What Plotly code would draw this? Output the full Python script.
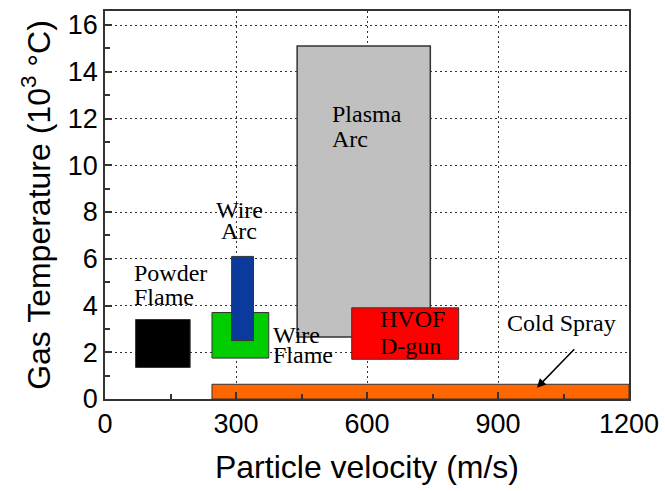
import plotly.graph_objects as go

# ---- data ----
processes = ["Powder Flame", "Wire Flame", "Wire Arc", "Plasma Arc", "HVOF D-gun", "Cold Spray"]
vel_min = [70, 245, 290, 440, 565, 245]
vel_max = [195, 375, 340, 745, 810, 1200]
temp_min = [1.35, 1.75, 2.5, 2.65, 1.7, 0.0]
temp_max = [3.4, 3.7, 6.1, 15.1, 3.9, 0.63]
fill_colors = ["#000000", "#00CC00", "#0A3A9C", "#C0C0C0", "#FF0000", "#FF6600"]

# label lines: (text, x, y, xanchor)
label_text = ["Powder", "Flame", "Wire", "Arc", "Wire", "Flame", "Plasma", "Arc", "HVOF", "D-gun", "Cold Spray"]
label_x = [61, 61, 307, 307, 381, 381, 515, 515, 625, 625, 916]
label_y = [5.40, 4.37, 8.08, 7.20, 2.73, 1.90, 12.2, 11.13, 3.43, 2.28, 3.26]
label_anchor = ["left", "left", "center", "center", "left", "left", "left", "left", "left", "left", "left"]

arrow_tail = (1078, 2.19)
arrow_head = (989, 0.48)

x_ticks = [0, 300, 600, 900, 1200]
y_ticks = [0, 2, 4, 6, 8, 10, 12, 14, 16]

fig = go.Figure()

shapes = []
for i, name in enumerate(processes):
    shapes.append(dict(
        type="rect", xref="x", yref="y",
        x0=vel_min[i], x1=vel_max[i], y0=temp_min[i], y1=temp_max[i],
        fillcolor=fill_colors[i],
        line=dict(color="#333333", width=1.5 if name == "Plasma Arc" else 1),
        layer="between",
    ))

annotations = []
serif = "Times New Roman, Liberation Serif, serif"
for t, x, y, a in zip(label_text, label_x, label_y, label_anchor):
    annotations.append(dict(
        x=x, y=y, xref="x", yref="y", text=t, showarrow=False,
        xanchor=a, yanchor="middle",
        font=dict(family=serif, size=24, color="black"),
    ))
annotations.append(dict(
    x=arrow_head[0], y=arrow_head[1], ax=arrow_tail[0], ay=arrow_tail[1],
    xref="x", yref="y", axref="x", ayref="y", text="",
    showarrow=True, arrowhead=2, arrowsize=1.2, arrowwidth=1.5, arrowcolor="black",
))

# invisible trace to establish axes
fig.add_trace(go.Scatter(x=[0, 1200], y=[0, 16], mode="markers",
                         marker=dict(opacity=0), showlegend=False, hoverinfo="skip"))

sans = "Arial, Liberation Sans, sans-serif"
fig.update_layout(
    width=665, height=491,
    margin=dict(l=105, r=36, t=11, b=92),
    paper_bgcolor="white", plot_bgcolor="white",
    shapes=shapes, annotations=annotations,
    showlegend=False,
    font=dict(family=sans, color="black"),
)
fig.update_xaxes(
    range=[0, 1200], tickvals=x_ticks, ticktext=[str(v) for v in x_ticks],
    ticks="inside", ticklen=7, tickwidth=1.5, tickcolor="#333333",
    showline=True, linecolor="#333333", linewidth=1.5, mirror=True,
    showgrid=True, gridcolor="#333333", gridwidth=1, griddash="2px,3px",
    minor=dict(dtick=150, tick0=0, ticks="inside", ticklen=5, tickcolor="#333333", showgrid=False),
    tickfont=dict(family=sans, size=27, color="black"),
    title=dict(text="Particle velocity (m/s)", font=dict(family=sans, size=32, color="black"), standoff=17),
    zeroline=False, automargin=False,
)
fig.update_yaxes(
    range=[0, 16.6], tickvals=y_ticks, ticktext=[str(v) for v in y_ticks],
    ticks="inside", ticklen=7, tickwidth=1.5, tickcolor="#333333",
    showline=True, linecolor="#333333", linewidth=1.5, mirror=True,
    showgrid=True, gridcolor="#333333", gridwidth=1, griddash="2px,3px",
    minor=dict(dtick=1, tick0=0, ticks="inside", ticklen=5, tickcolor="#333333", showgrid=False),
    tickfont=dict(family=sans, size=27, color="black"),
    title=dict(text="Gas Temperature (10<sup>3</sup> °C)", font=dict(family=sans, size=32, color="black"), standoff=8),
    zeroline=False, automargin=False,
)

fig.write_html(
    "out.html",
    config={"displayModeBar": False},
    post_script="document.body.style.margin='0';document.body.style.overflow='hidden';",
)
